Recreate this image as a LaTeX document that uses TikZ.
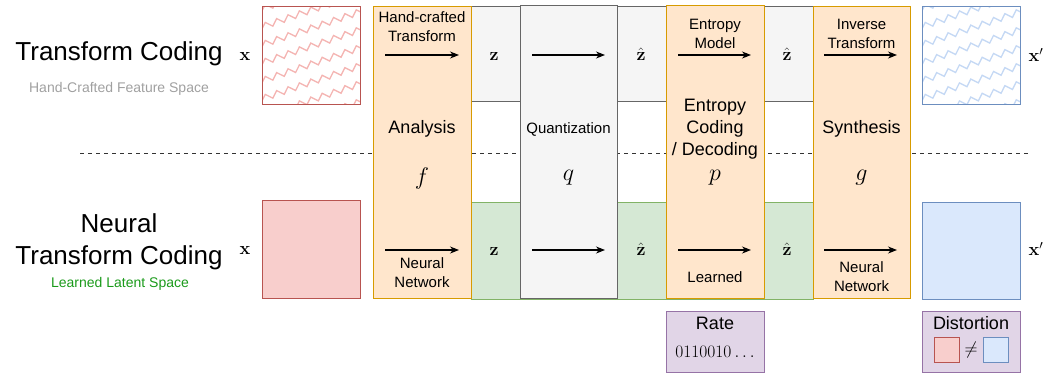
\RequirePackage{fix-cm}
\documentclass[tikz,border=0pt]{standalone}
\usepackage[no-math]{fontspec}
\setmainfont{Liberation Sans}
\usetikzlibrary{arrows.meta}
\usetikzlibrary{decorations.pathmorphing}
\usepackage{xcolor}

\definecolor{redfill}{HTML}{F8CECC}
\definecolor{redline}{HTML}{B85450}
\definecolor{redhatch}{HTML}{F4B4B2}
\definecolor{bluefill}{HTML}{DAE8FC}
\definecolor{blueline}{HTML}{6C8EBF}
\definecolor{bluehatch}{HTML}{C4D8F4}
\definecolor{orangefill}{HTML}{FFE6CC}
\definecolor{orangeline}{HTML}{D79B00}
\definecolor{greenfill}{HTML}{D5E8D4}
\definecolor{greenline}{HTML}{82B366}
\definecolor{grayfill}{HTML}{F5F5F5}
\definecolor{grayline}{HTML}{666666}
\definecolor{purplefill}{HTML}{E1D5E7}
\definecolor{purpleline}{HTML}{9673A6}
\definecolor{subgray}{HTML}{A0A0A0}
\definecolor{subgreen}{HTML}{1A9A1A}

\tikzset{
  box/.style={draw, rectangle, line width=1pt, inner sep=0pt},
  stage/.style={box, fill=orangefill, draw=orangeline, minimum width=98pt, minimum height=292pt},
  quant/.style={box, fill=grayfill, draw=grayline, minimum width=97pt, minimum height=293pt},
  band/.style={box, minimum width=342pt},
  img/.style={box, minimum width=98pt, minimum height=98pt},
  metric/.style={box, fill=purplefill, draw=purpleline, minimum width=98pt, minimum height=61pt},
  title/.style={font=\fontsize{26}{30}\selectfont, align=center},
  sub/.style={font=\fontsize{14}{16}\selectfont},
  small/.style={font=\fontsize{15}{19}\selectfont, align=center},
  big/.style={font=\fontsize{18}{22}\selectfont, align=center},
  sym/.style={font=\fontsize{18}{20}\selectfont, inner sep=1pt},
  fn/.style={font=\fontsize{24}{26}\selectfont, inner sep=1pt},
  flow/.style={-{Stealth[length=9pt,width=7pt]}, line width=1.1pt},
  hatch/.style={line width=1.3pt, decorate, decoration={zigzag, segment length=12pt, amplitude=3pt}}
}

\begin{document}
\begin{tikzpicture}[x=1pt, y=-1pt]
    \useasboundingbox (0,0) rectangle (1049,373);

    % separator between the two rows
    \coordinate (sepL) at (80,153);
    \coordinate (sepR) at (1028,153);
    \draw[dashed, dash pattern=on 4pt off 4pt, line width=1pt, black!80] (sepL) -- (sepR);

    % hatched squares of the hand-crafted row
    \foreach \sx/\hc in {262/redhatch, 922/bluehatch} {
      \begin{scope}
        \clip (\sx,6) rectangle ++(98,98);
        \foreach \k in {0,...,8} {
          \draw[hatch, \hc] (\sx-10, 12+18*\k) -- ++(125,-42);
        }
      \end{scope}
    }

    % row titles
    \node[title] (tc) at (119,54) {Transform Coding};
    \node[sub, text=subgray] (tcsub) at (119,89) {Hand-Crafted Feature Space};
    \node[title, font=\fontsize{26}{32}\selectfont] (ntc) at (119,242) {Neural\\Transform Coding};
    \node[sub, text=subgreen] (ntcsub) at (120,284) {Learned Latent Space};

    % inputs
    \node[img, draw=redline] (xT) at (311,55) {};
    \node[img, fill=redfill, draw=redline] (xB) at (311,249) {};
    \node[sym] (xTl) at (245,56) {$\mathbf{x}$};
    \node[sym] (xBl) at (245,250) {$\mathbf{x}$};

    % latent bands
    \node[band, fill=grayfill, draw=grayline, minimum height=95pt] (bandT) at (642,53.5) {};
    \node[band, fill=greenfill, draw=greenline, minimum height=97pt] (bandB) at (642,250.5) {};

    % stages
    \node[stage] (ana) at (422,152) {};
    \node[quant] (qua) at (568.5,151.5) {};
    \node[stage, minimum height=293pt] (ent) at (715,151.5) {};
    \node[stage, minimum width=97pt] (syn) at (861.5,152) {};

    % outputs
    \node[img, draw=blueline] (yT) at (971,55) {};
    \node[img, fill=bluefill, draw=blueline, minimum height=97pt] (yB) at (971,250.5) {};
    \node[sym] (yTl) at (1036,55) {$\mathbf{x}'$};
    \node[sym] (yBl) at (1036,249) {$\mathbf{x}'$};

    % stage names
    \node[big] (anaN) at (422,129) {Analysis};
    \node[fn] (anaF) at (422,178) {$f$};
    \node[small, font=\fontsize{15}{15}\selectfont] (quaN) at (568.5,129) {Quantization};
    \node[fn] (quaF) at (568.5,178) {$q$};
    \node[big] (entN) at (715,129) {Entropy\\Coding\\/ Decoding};
    \node[fn] (entF) at (715,178) {$p$};
    \node[big] (synN) at (861.5,129) {Synthesis};
    \node[fn] (synF) at (861.5,178) {$g$};

    % latent symbols
    \node[sym] (z1T) at (494,56) {$\mathbf{z}$};
    \node[sym] (z2T) at (641,54) {$\hat{\mathbf{z}}$};
    \node[sym] (z3T) at (787,54) {$\hat{\mathbf{z}}$};
    \node[sym] (z1B) at (494,251) {$\mathbf{z}$};
    \node[sym] (z2B) at (641,249) {$\hat{\mathbf{z}}$};
    \node[sym] (z3B) at (787,249) {$\hat{\mathbf{z}}$};

    % top row captions
    \node[small] (anaT) at (422,27) {Hand-crafted\\Transform};
    \node[small] (entT) at (715,34) {Entropy\\Model};
    \node[small] (synT) at (861.5,34) {Inverse\\Transform};

    % bottom row captions
    \node[small] (anaB) at (422,273) {Neural\\Network};
    \node[small] (entB) at (715,277) {Learned};
    \node[small] (synB) at (861.5,277) {Neural\\Network};

    % arrows inside the stages
    \coordinate (a1T) at (385,55);  \coordinate (a2T) at (459,55);
    \coordinate (q1T) at (532,55);  \coordinate (q2T) at (605,55);
    \coordinate (e1T) at (678,55);  \coordinate (e2T) at (751,55);
    \coordinate (s1T) at (824,55);  \coordinate (s2T) at (897,55);
    \coordinate (a1B) at (385,250); \coordinate (a2B) at (459,250);
    \coordinate (q1B) at (532,250); \coordinate (q2B) at (605,250);
    \coordinate (e1B) at (678,250); \coordinate (e2B) at (751,250);
    \coordinate (s1B) at (824,250); \coordinate (s2B) at (897,250);

    \path [flow] (a1T) edge (a2T);
    \path [flow] (q1T) edge (q2T);
    \path [flow] (e1T) edge (e2T);
    \path [flow] (s1T) edge (s2T);
    \path [flow] (a1B) edge (a2B);
    \path [flow] (q1B) edge (q2B);
    \path [flow] (e1B) edge (e2B);
    \path [flow] (s1B) edge (s2B);

    % rate and distortion
    \node[metric] (rate) at (715,341.5) {};
    \node[big] (rateN) at (715,323) {Rate};
    \node[sym, font=\fontsize{17.5}{19}\selectfont] (bits) at (715,352) {$0110010\ldots$};
    \node[metric] (dist) at (971,341.5) {};
    \node[big] (distN) at (971,323) {Distortion};
    \node[box, fill=redfill, draw=redline, minimum size=25pt] (dRed) at (946.5,350) {};
    \node[sym] (dNe) at (971,350) {$\neq$};
    \node[box, fill=bluefill, draw=blueline, minimum size=25pt] (dBlue) at (995.5,350) {};
  \end{tikzpicture}
\end{document}
